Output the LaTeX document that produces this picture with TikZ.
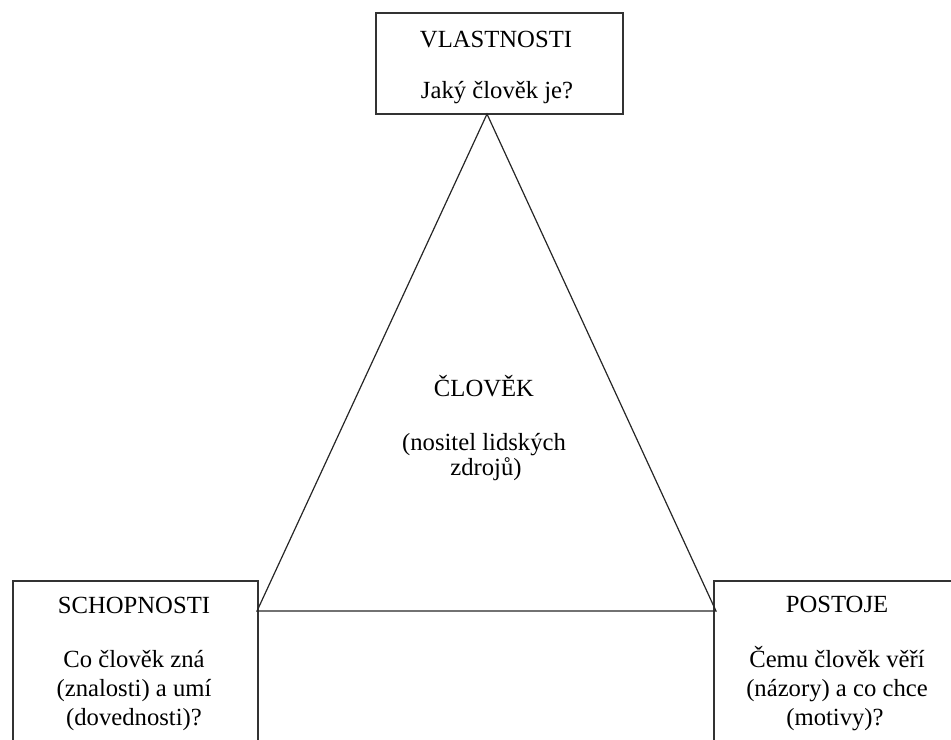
\documentclass[tikz,border=0pt]{standalone}
\usepackage{fontspec}
\setmainfont{Liberation Serif}
\begin{document}
\begin{tikzpicture}[x=0.75pt,y=0.75pt,yscale=-1,xscale=1,
	box/.style={line width=1.4pt, draw=black!80},
	edge/.style={line width=0.9pt, draw=black!85},
	txt/.style={anchor=base, inner sep=0.75pt, font=\fontsize{18.5}{22}\selectfont}]
	%set diagram to 951 x 740
	\useasboundingbox (0,0) rectangle (951,740);
	\clip (0,0) rectangle (951,740);
	
	%Shape: Rectangle [vlastnosti]
	\draw [box] (376,13) rectangle (623,114);
	%Shape: Rectangle [schopnosti]
	\draw [box] (13,581) rectangle (258,770);
	%Shape: Rectangle [postoje]
	\draw [box] (714,581) rectangle (961,770);
	
	%Shape: Triangle
	\coordinate (apex) at (487,114);
	\coordinate (vlevo) at (257,611);
	\coordinate (vpravo) at (716,611);
	\draw [edge] (apex) -- (vlevo) -- (vpravo) -- cycle;
	
	% Text Node
	\node [txt] (vlastT) at (496,47) {VLASTNOSTI};
	% Text Node
	\node [txt] (vlastQ) at (497,98) {Jaký člověk je?};
	
	% Text Node
	\node [txt] (clovekT) at (484,396) {ČLOVĚK};
	% Text Node
	\node [txt] (clovekA) at (484,450) {(nositel lidských};
	% Text Node
	\node [txt] (clovekB) at (486,475) {zdrojů)};
	
	% Text Node
	\node [txt] (schopT) at (134,613) {SCHOPNOSTI};
	% Text Node
	\node [txt] (schopA) at (134,667) {Co člověk zná};
	% Text Node
	\node [txt] (schopB) at (134,696) {(znalosti) a umí};
	% Text Node
	\node [txt] (schopC) at (134,725) {(dovednosti)?};
	
	% Text Node
	\node [txt] (postT) at (837,612) {POSTOJE};
	% Text Node
	\node [txt] (postA) at (837,667) {Čemu člověk věří};
	% Text Node
	\node [txt] (postB) at (837,696) {(názory) a co chce};
	% Text Node
	\node [txt] (postC) at (835,725) {(motivy)?};
	
\end{tikzpicture}
\end{document}
